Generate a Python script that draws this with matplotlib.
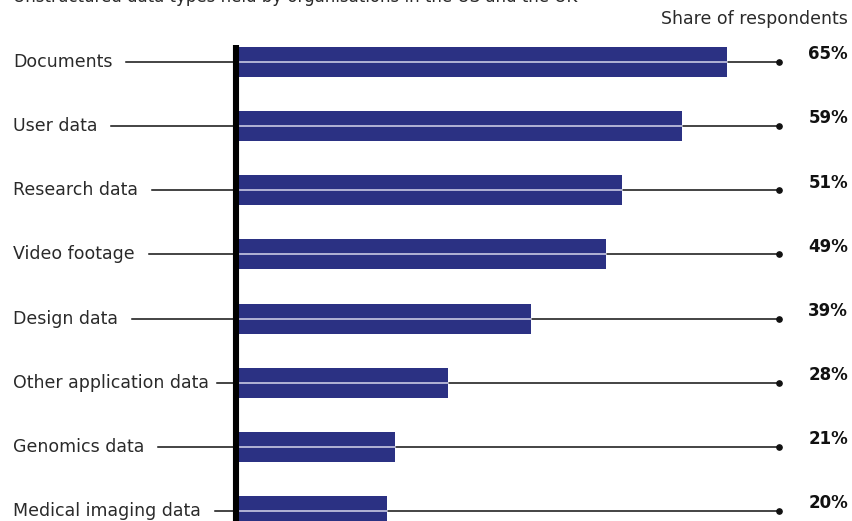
import matplotlib
matplotlib.use("Agg")
import matplotlib.pyplot as plt

categories = ["Documents", "User data", "Research data", "Video footage",
              "Design data", "Other application data", "Genomics data",
              "Medical imaging data"]
values = [65, 59, 51, 49, 39, 28, 21, 20]
value_labels = ["65%", "59%", "51%", "49%", "39%", "28%", "21%", "20%"]
title = "Unstructured data types held by organisations in the US and the UK"
subtitle = "Share of respondents"

W, H = 853, 521
fig = plt.figure(figsize=(W / 100, H / 100), dpi=100)
ax = fig.add_axes([0, 0, 1, 1])
ax.set_axis_off()

# pixel mapping
x0_px, px_per = 236, 7.56
row0_px, row_px = 62, 64.14
ax.set_xlim(-x0_px / px_per, (W - x0_px) / px_per)
ax.set_ylim((H - row0_px) / row_px, -row0_px / row_px)

def px_to_x(px):
    return (px - x0_px) / px_per

def px_to_y(py):
    return (py - row0_px) / row_px

navy = "#2b3183"
font = "DejaVu Sans"
dot_x = px_to_x(779)
label_x = px_to_x(13)
right_x = px_to_x(848)
line_start_max = px_to_x(217)

ys = list(range(len(categories)))
ax.barh(ys, values, height=30 / row_px, left=0, color=navy, zorder=2)

fig.canvas.draw()
renderer = fig.canvas.get_renderer()
inv = ax.transData.inverted()

for y, cat, v, lab in zip(ys, categories, values, value_labels):
    t = ax.text(label_x, y, cat, ha="left", va="center", fontsize=12.5,
                family=font, color="#2a2a2a", zorder=5)
    bb = t.get_window_extent(renderer=renderer)
    end_x = min(inv.transform((bb.x1, 0))[0] + 14 / px_per, line_start_max)
    ax.plot([end_x, dot_x], [y, y], color="#111111", lw=1.1, zorder=1)
    ax.plot([0, v], [y, y], color="#d6d6ec", lw=1.1, zorder=3)
    ax.plot([dot_x], [y], marker="o", ms=3.8, color="#111111", zorder=4)
    ax.text(right_x, y - 0.12, lab, ha="right", va="center", fontsize=12,
            family=font, fontweight="bold", color="#111111", zorder=5)

# vertical axis bar
ax.plot([px_to_x(236), px_to_x(236)], [px_to_y(45), px_to_y(530)],
        color="black", lw=4.4, solid_capstyle="butt", zorder=6)

ax.text(right_x, px_to_y(19), subtitle, ha="right", va="center",
        fontsize=12.5, family=font, color="#2a2a2a")
ax.text(label_x, px_to_y(2), title, ha="left", va="baseline",
        fontsize=12, family=font, color="#2a2a2a")

fig.savefig("out.png", dpi=100)
